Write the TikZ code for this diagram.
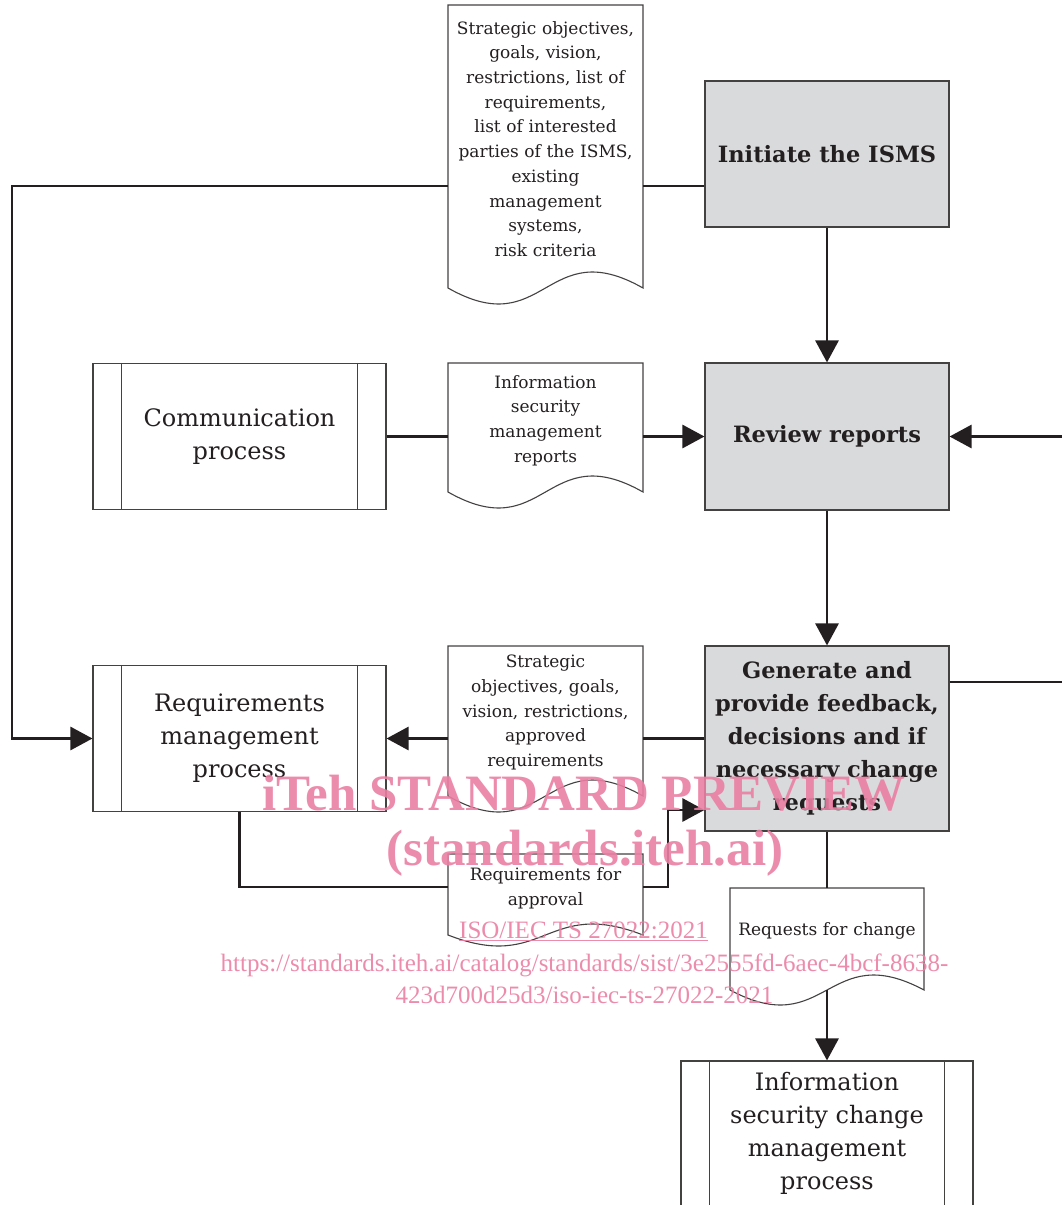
\documentclass[tikz,border=0pt]{standalone}
\usepackage{fontspec}
\setmainfont{DejaVu Serif}
\newfontfamily\wmfont{Liberation Serif}
\usetikzlibrary{arrows.meta,calc}
\definecolor{ink}{HTML}{231F20}
\definecolor{boxgray}{HTML}{D9DADC}
\definecolor{wmpink}{HTML}{EA7FA3}
\newcommand\proclines[1]{\draw[boxline] ($(#1.north west)+(29,0)$) -- ($(#1.south west)+(29,0)$) ($(#1.north east)+(-29,0)$) -- ($(#1.south east)+(-29,0)$);}
\newcommand\docshape[5]{\draw[boxline, fill=white] (#1,#4) -- (#1,#2) -- (#3,#2) -- (#3,#4) .. controls ({(#1+#3)/2},{#4-3.46*#5}) and ({(#1+#3)/2},{#4+3.46*#5}) .. (#1,#4) -- cycle;}
\begin{document}
\begin{tikzpicture}[x=1pt,y=-1pt,
 boxline/.style={draw=ink!85, line width=1.1pt},
 procbox/.style={boxline, rectangle, minimum width=293pt, minimum height=146pt, inner sep=0pt, align=center, font=\fontsize{24}{33}\selectfont, text=ink},
 graybox/.style={boxline, fill=boxgray, rectangle, minimum width=244pt, inner sep=0pt, align=center, font=\bfseries\fontsize{22.5}{33}\selectfont, text=ink},
 doctext/.style={inner sep=0pt, text width=195pt, align=center, font=\fontsize{17}{24.7}\selectfont, text=ink},
 conn/.style={draw=ink, line width=2.8pt},
 arr/.style={conn, -{Triangle[length=22pt,width=23pt]}},
 wm/.style={text=wmpink, opacity=0.9, inner sep=0pt, align=center}
]
\useasboundingbox (0,0) rectangle (1062,1205);
\clip (0,0) rectangle (1062,1205);

% process boxes
\node[graybox, minimum height=146pt] (init) at (827,154) {Initiate the ISMS};
\node[graybox, minimum height=147pt] (review) at (827,436.5) {Review reports};
\node[graybox, minimum height=185pt] (gen) at (827,738.5) {Generate and\\provide feedback,\\decisions and if\\necessary change\\requests};
\node[procbox] (comm) at (239.5,436.5) {Communication\\process};
\node[procbox] (req) at (239.5,738.5) {Requirements\\management\\process};
\node[procbox, minimum width=292pt, minimum height=145pt] (ischg) at (827,1133.5) {Information\\security change\\management\\process};
\proclines{comm}
\proclines{req}
\proclines{ischg}

% documents
\docshape{448}{5}{643}{288}{16}
\docshape{448}{363}{643}{492}{16}
\docshape{448}{646}{643}{796}{16}
\docshape{448}{854}{643}{935}{11}
\docshape{730}{888}{924}{990}{15}
\node[doctext] (d1) at (545.5,139) {Strategic objectives,\\goals, vision,\\restrictions, list of\\requirements,\\list of interested\\parties of the ISMS,\\existing\\management\\systems,\\risk criteria};
\node[doctext] (d2) at (545.5,420.5) {Information\\security\\management\\reports};
\node[doctext] (d3) at (545.5,712.5) {Strategic\\objectives, goals,\\vision, restrictions,\\approved\\requirements};
\node[doctext] (d4) at (545.5,888) {Requirements for\\approval};
\node[doctext, text width=194pt] (d5) at (827,931) {Requests for change};

% helper coordinates
\coordinate (y1) at (0,186);
\coordinate (lft) at (12,0);
\coordinate (redge) at (1075,436.5);
\coordinate (gright) at (1075,682);
\coordinate (xbend) at (668,0);
\coordinate (g810) at (0,810);
\coordinate (d5top) at (0,888);
\coordinate (d5bot) at (827,990);

% connectors
\draw[conn] (init.west |- y1) -- (d1.east |- y1);
\draw[arr] (d1.west |- y1) -| (lft |- req.west) -- (req.west);
\draw[arr] (init.south) -- (review.north);
\draw[conn] (comm.east) -- (d2.west |- comm.east);
\draw[arr] (d2.east |- comm.east) -- (review.west);
\draw[arr] (redge) -- (review.east);
\draw[arr] (review.south) -- (gen.north);
\draw[conn] (gen.east |- gright) -- (gright);
\draw[conn] (gen.west) -- (d3.east |- gen.west);
\draw[arr] (d3.west |- gen.west) -- (req.east);
\draw[conn] (req.south) |- (d4.west |- 0,887);
\draw[arr] (d4.east |- 0,887) -| (xbend |- g810) -- (gen.west |- g810);
\draw[conn] (gen.south) -- (gen.south |- d5top);
\draw[arr] (d5bot) -- (ischg.north);

% watermark
\node[wm, font=\wmfont\bfseries\fontsize{51}{51}\selectfont] (wm1) at (584,793) {iTeh STANDARD PREVIEW};
\node[wm, font=\wmfont\bfseries\fontsize{51}{51}\selectfont] (wm2) at (585,853) {(standards.iteh.ai)};
\node[wm, font=\wmfont\fontsize{25}{25}\selectfont] (wm3) at (583.5,931) {\underline{ISO/IEC TS 27022:2021}};
\node[wm, font=\wmfont\fontsize{25}{32}\selectfont] (wm4) at (584.5,979) {https://standards.iteh.ai/catalog/standards/sist/3e2555fd-6aec-4bcf-8638-\\423d700d25d3/iso-iec-ts-27022-2021};
\end{tikzpicture}
\end{document}
